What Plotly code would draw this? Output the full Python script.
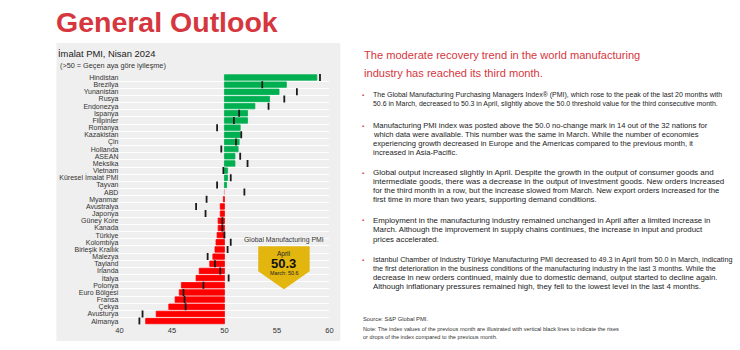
import plotly.graph_objects as go

# ---------------- data ----------------
countries = ["Hindistan", "Brezilya", "Yunanistan", "Rusya", "Endonezya", "İspanya", "Filipinler",
             "Romanya", "Kazakistan", "Çin", "Hollanda", "ASEAN", "Meksika", "Vietnam",
             "Küresel İmalat PMI", "Tayvan", "ABD", "Myanmar", "Avustralya", "Japonya",
             "Güney Kore", "Kanada", "Türkiye", "Kolombiya", "Birleşik Krallık", "Malezya",
             "Tayland", "İrlanda", "İtalya", "Polonya", "Euro Bölgesi", "Fransa", "Çekya",
             "Avusturya", "Almanya"]
april = [58.8, 55.9, 55.2, 54.3, 52.9, 52.2, 52.2,
         51.5, 51.5, 51.4, 51.3, 51.0, 51.0, 50.3,
         50.3, 50.2, 50.0, 49.9, 49.6, 49.6,
         49.4, 49.4, 49.3, 49.2, 49.1, 48.9,
         48.6, 47.6, 47.3, 45.9, 45.7, 45.3, 44.7,
         43.5, 42.5]
march = [59.1, 53.6, 56.9, 55.7, 54.2, 51.4, 50.9,
         49.3, 51.6, 51.1, 49.7, 51.5, 52.2, 49.9,
         50.6, 49.3, 51.9, 48.3, 47.3, 48.2,
         49.8, 49.8, 50.0, 50.6, 50.3, 48.4,
         49.1, 49.6, 50.4, 48.0, 46.1, 46.2, 46.3,
         42.2, 41.9]
x_ticks = [40, 45, 50, 55, 60]
threshold = 50
global_april = 50.3
global_march = 50.6

W, H = 740, 350
def px(x):
    return x / W
def py(y):
    return 1 - y / H

RED_T = "#D6363E"
BODY = "#333333"
FONT = "Liberation Sans, Arial, sans-serif"

colors = []
for v in april:
    if v > threshold:
        colors.append("#00B050")
    elif v == threshold:
        colors.append("#F4A0A8")
    else:
        colors.append("#FF0000")

n = len(countries)
ypos = list(range(n))

fig = go.Figure()
fig.add_trace(go.Bar(
    y=ypos, x=[v - threshold for v in april], base=threshold, orientation="h",
    marker=dict(color=colors, line=dict(color=colors, width=0.8)),
    width=0.76, hoverinfo="skip", showlegend=False))
fig.add_trace(go.Scatter(
    y=ypos, x=march, mode="markers",
    marker=dict(symbol="line-ns", size=5, line=dict(color="#1a1a1a", width=1.8)),
    hoverinfo="skip", showlegend=False))

fig.update_layout(
    width=W, height=H, margin=dict(l=0, r=0, t=0, b=0),
    paper_bgcolor="white", plot_bgcolor="rgba(0,0,0,0)",
    font=dict(family=FONT, color=BODY),
    xaxis=dict(domain=[px(116.7), px(329)], range=[40, 60], tickvals=x_ticks,
               showgrid=False, zeroline=False, showline=False, ticks="",
               tickfont=dict(size=7.5, color="#333")),
    yaxis=dict(domain=[py(325.6), py(74.1)], range=[n - 0.5, -0.5],
               tickvals=ypos, ticktext=countries, showgrid=False, zeroline=False,
               ticks="", tickfont=dict(size=7, color="#333"),
               minor=dict(tickmode="array", tickvals=[i + 0.5 for i in range(-1, n)],
                          showgrid=True, gridcolor="white", gridwidth=1, ticks="")),
)

shapes = [
    dict(type="rect", xref="paper", yref="paper", x0=px(53), x1=px(340), y0=py(342), y1=py(43),
         fillcolor="#EFEFEF", line=dict(width=0), layer="below"),
    dict(type="path", xref="paper", yref="paper",
         path=f"M {px(257)} {py(247)} L {px(309)} {py(247)} L {px(309)} {py(272)} "
              f"L {px(283)} {py(290)} L {px(257)} {py(272)} Z",
         fillcolor="#E3B50F", line=dict(width=0), layer="above"),
]
fig.update_layout(shapes=shapes)

ann = []
def text(s, x, y, size, color=BODY, bold=False, xanchor="left"):
    ann.append(dict(text=(f"<b>{s}</b>" if bold else s), x=px(x), y=py(y), xref="paper", yref="paper",
                    xanchor=xanchor, yanchor="middle", showarrow=False,
                    font=dict(size=size, color=color, family=FONT)))

text("General Outlook", 51, 22, 28.5, color=RED_T, bold=True)
text("İmalat PMI, Nisan 2024", 53, 54, 9.4, color="#222")
text("(>50 = Geçen aya göre iyileşme)", 55, 66, 7.3, color="#333")

text("Global Manufacturing PMI", 283, 241, 6.9, color="#333", xanchor="center")
text("April", 283, 255, 6.5, color="#222", xanchor="center")
text(f"{global_april}", 283, 264.5, 13, color="#111", bold=True, xanchor="center")
text(f"March: {global_march}", 283, 274, 5.4, color="#222", xanchor="center")

text("The moderate recovery trend in the world manufacturing", 362, 55, 11.1, color=RED_T)
text("industry has reached its third month.", 362, 73, 11.1, color=RED_T)

bullets = [
    ([95, 104.3], [7.0, 6.95],
     ["The Global Manufacturing Purchasing Managers Index® (PMI), which rose to the peak of the last 20 months with",
      "50.6 in March, decreased to 50.3 in April, slightly above the 50.0 threshold value for the third consecutive month."]),
    ([126, 135, 144, 152.7], [7.6] * 4,
     ["Manufacturing PMI index was posted above the 50.0 no-change mark in 14 out of the 32 nations for",
      "which data were available. This number was the same in March. While the number of economies",
      "experiencing growth decreased in Europe and the Americas compared to the previous month, it",
      "increased in Asia-Pacific."]),
    ([173.3, 182.3, 191.3, 200.3], [8.0, 8.0, 7.75, 7.9],
     ["Global output increased slightly in April. Despite the growth in the output of consumer goods and",
      "intermediate goods, there was a decrease in the output of investment goods. New orders increased",
      "for the third month in a row, but the increase slowed from March. New export orders increased for the",
      "first time in more than two years, supporting demand conditions."]),
    ([220.7, 229.7, 239.7], [7.85] * 3,
     ["Employment in the manufacturing industry remained unchanged in April after a limited increase in",
      "March. Although the improvement in supply chains continues, the increase in input and product",
      "prices accelerated."]),
    ([260.7, 269.3, 278.3, 287.3], [7.2, 7.2, 7.85, 7.85],
     ["Istanbul Chamber of Industry Türkiye Manufacturing PMI decreased to 49.3 in April from 50.0 in March, indicating",
      "the first deterioration in the business conditions of the manufacturing industry in the last 3 months. While the",
      "decrease in new orders continued, mainly due to domestic demand, output started to decline again.",
      "Although inflationary pressures remained high, they fell to the lowest level in the last 4 months."]),
]
for ys, sizes, lines in bullets:
    text("▪", 359.5, ys[0], 6, color=RED_T)
    for yy, sz, ln in zip(ys, sizes, lines):
        text(ln, 371, yy, sz, color="#222")

text("Source: S&P Global PMI.", 361, 320, 5.8, color="#333")
text("Note: The index values of the previous month are illustrated with vertical black lines to indicate the rises",
     361, 330.3, 5.6, color="#333")
text("or drops of the index compared to the previous month.", 361, 337.7, 5.6, color="#333")

fig.update_layout(annotations=ann)
fig.write_html("out.html")
